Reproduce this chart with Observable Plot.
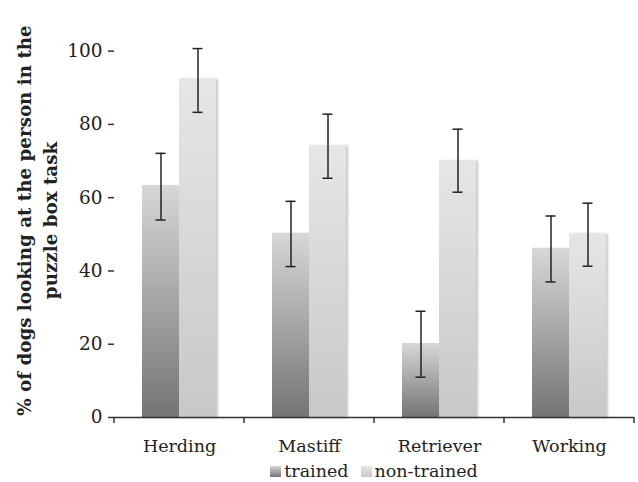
<!DOCTYPE html>
<html><head><meta charset="utf-8">
<script src="https://cdn.jsdelivr.net/npm/d3@7"></script>
<script src="https://cdn.jsdelivr.net/npm/@observablehq/plot@0.6"></script>
<style>
body{margin:0;background:#fff;font-family:"DejaVu Serif",serif;}
#legend{margin-left:114px;width:520px;height:22px;display:flex;justify-content:center;align-items:center;font-size:17.5px;color:#222;line-height:22px;}
#legend span.item{display:inline-flex;align-items:center;margin:0 6px;}
#legend svg{margin-right:3px;}
</style>
</head><body>
<svg width="0" height="0" style="position:absolute">
  <defs>
    <linearGradient id="gTrained" x1="0" y1="0" x2="0" y2="1">
      <stop offset="0%" stop-color="#d7d7d7"/>
      <stop offset="100%" stop-color="#747474"/>
    </linearGradient>
    <linearGradient id="gNon" x1="0" y1="0" x2="0" y2="1">
      <stop offset="0%" stop-color="#e6e6e6"/>
      <stop offset="100%" stop-color="#c8c8c8"/>
    </linearGradient>
    <filter id="barShadow" x="-20%" y="-5%" width="150%" height="115%">
      <feDropShadow dx="2" dy="1" stdDeviation="1" flood-color="#000" flood-opacity="0.22"/>
    </filter>
  </defs>
</svg>
<div id="chart"></div>
<div id="legend"></div>
<script>
const breeds = ["Herding", "Mastiff", "Retriever", "Working"];
const groups = ["trained", "non-trained"];
const trainedValues = [63.3, 50.3, 20.2, 46.2];
const trainedLow = [53.9, 41.2, 11.0, 37.0];
const trainedHigh = [72.1, 59.0, 29.0, 55.0];
const nonTrainedValues = [92.5, 74.3, 70.2, 50.3];
const nonTrainedLow = [83.3, 65.3, 61.5, 41.3];
const nonTrainedHigh = [100.7, 82.8, 78.7, 58.5];
const yTicks = [0, 20, 40, 60, 80, 100];
const yLabelLines = ["% of dogs looking at the person in the", "puzzle box task"];
const groupFills = {"trained": "url(#gTrained)", "non-trained": "url(#gNon)"};

const rows = breeds.flatMap((b, i) => [
  {breed: b, group: groups[0], value: trainedValues[i], lo: trainedLow[i], hi: trainedHigh[i]},
  {breed: b, group: groups[1], value: nonTrainedValues[i], lo: nonTrainedLow[i], hi: nonTrainedHigh[i]}
]);

const errStyle = {stroke: "#222", strokeWidth: 1.5};

const plot = Plot.plot({
  width: 638,
  height: 460,
  marginLeft: 114,
  marginRight: 4,
  marginTop: 14,
  marginBottom: 43,
  style: {fontFamily: "DejaVu Serif, serif", fontSize: "17.5px", color: "#222", background: "#fff"},
  fx: {domain: breeds, padding: 0},
  x: {domain: groups, paddingInner: 0, paddingOuter: 0.733, axis: null},
  y: {domain: [0, 110]},
  marks: [
    ...groups.map(g => Plot.barY(rows.filter(d => d.group === g), {
      fx: "breed", x: "group", y: "value", fill: groupFills[g]
    })),
    Plot.ruleX(rows, {fx: "breed", x: "group", y1: "lo", y2: "hi", ...errStyle}),
    Plot.tickY(rows, {fx: "breed", x: "group", y: "lo", insetLeft: 13.5, insetRight: 13.5, ...errStyle}),
    Plot.tickY(rows, {fx: "breed", x: "group", y: "hi", insetLeft: 13.5, insetRight: 13.5, ...errStyle}),
    Plot.ruleY([0], {stroke: "#333", strokeWidth: 1.5}),
    Plot.axisY({ticks: yTicks, tickSize: 6, tickPadding: 6, fontSize: 18.5, label: null, line: true, stroke: "#333", strokeWidth: 1.5}),
    Plot.axisFx({anchor: "bottom", tickSize: 0, tickPadding: 22, fontSize: 17.5, label: null})
  ]
});

document.getElementById("chart").appendChild(plot);

const svg = d3.select(plot);
// drop shadow on bars
svg.selectAll('g[aria-label="bar"] rect').attr("filter", "url(#barShadow)");

// boundary tick marks of the category axis
const fx = plot.scale("fx");
const y = plot.scale("y");
const y0 = y.apply(0);
const bounds = breeds.map(b => fx.apply(b)).concat([fx.apply(breeds[breeds.length - 1]) + fx.bandwidth]);
svg.append("g").selectAll("line").data(bounds).join("line")
  .attr("x1", d => d).attr("x2", d => d)
  .attr("y1", y0).attr("y2", y0 + 6)
  .attr("stroke", "#333").attr("stroke-width", 1.5);

// y-axis title (two lines, bold, rotated)
const yMid = (y.apply(0) + y.apply(110)) / 2 + 5;
const lbl = svg.append("text")
  .attr("transform", `translate(25,${yMid}) rotate(-90)`)
  .attr("text-anchor", "middle")
  .attr("font-weight", "bold")
  .attr("font-size", 18.3)
  .attr("fill", "#222");
yLabelLines.forEach((t, i) => {
  lbl.append("tspan").attr("x", 0).attr("dy", i === 0 ? "0.35em" : "1.4em").text(t);
});

// legend
const legend = d3.select("#legend");
groups.forEach(g => {
  const item = legend.append("span").attr("class", "item");
  const sw = item.append("svg").attr("width", 11).attr("height", 11);
  sw.append("rect").attr("width", 11).attr("height", 11).attr("fill", groupFills[g]);
  item.append("span").text(g);
});
</script>
</body></html>
